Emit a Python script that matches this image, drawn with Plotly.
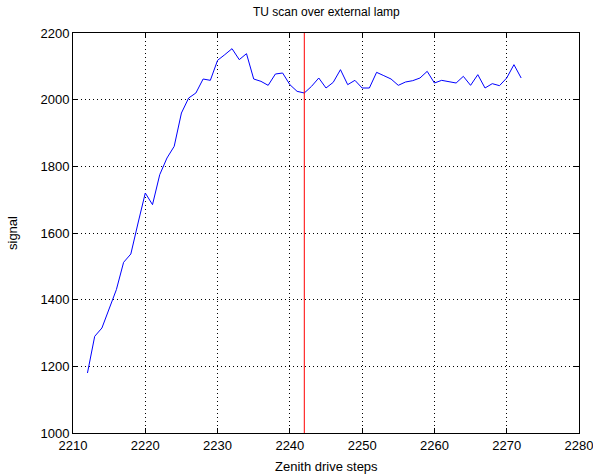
import plotly.graph_objects as go

steps = list(range(2212, 2273))
signal = [
    1180, 1290, 1315, 1370, 1430, 1512, 1537, 1630, 1720, 1685,
    1775, 1825, 1860, 1960, 2005, 2020, 2062, 2058, 2118, 2135,
    2153, 2120, 2138, 2062, 2055, 2043, 2077, 2080, 2045, 2025,
    2020, 2040, 2065, 2035, 2052, 2090, 2045, 2058, 2035, 2035,
    2082, 2072, 2062, 2043, 2053, 2057, 2065, 2085, 2050, 2058,
    2055, 2050, 2070, 2043, 2075, 2035, 2048, 2042, 2065, 2105,
    2065,
]
marker_step = 2242
x_range = [2210, 2280]
y_range = [1000, 2200]

title_text = "TU scan over external lamp"
x_title = "Zenith drive steps"
y_title = "signal"

FONT = "Liberation Sans, Arial, sans-serif"

fig = go.Figure()
fig.add_trace(go.Scatter(x=steps, y=signal, mode="lines",
                         line=dict(color="rgb(0,0,255)", width=1),
                         showlegend=False, hoverinfo="skip"))
fig.add_trace(go.Scatter(x=[marker_step, marker_step], y=y_range, mode="lines",
                         line=dict(color="rgb(255,0,0)", width=1),
                         showlegend=False, hoverinfo="skip"))

axis_common = dict(
    showline=True, linecolor="black", linewidth=1, mirror="ticks",
    ticks="inside", ticklen=5, tickcolor="black", tickwidth=1,
    showgrid=True, gridcolor="black", gridwidth=1, griddash="1px,3px",
    zeroline=False, tickfont=dict(family=FONT, size=13, color="black"),
    ticklabeloverflow="allow", automargin=False,
)

fig.update_xaxes(range=x_range, dtick=10, tick0=2210, **axis_common)
fig.update_yaxes(range=y_range, dtick=200, tick0=1000, **axis_common)

fig.update_layout(
    width=593, height=475,
    margin=dict(l=73, r=14, t=33, b=42),
    paper_bgcolor="white", plot_bgcolor="white",
    font=dict(family=FONT, size=13, color="black"),
    annotations=[
        dict(text=title_text, xref="paper", yref="paper", x=0.5, y=1,
             yshift=21, showarrow=False, xanchor="center", yanchor="middle",
             font=dict(family=FONT, size=12, color="black")),
        dict(text=x_title, xref="paper", yref="paper", x=0.5, y=0,
             yshift=-33, showarrow=False, xanchor="center", yanchor="middle",
             font=dict(family=FONT, size=13, color="black")),
        dict(text=y_title, xref="paper", yref="paper", x=0, y=0.5,
             xshift=-61, showarrow=False, xanchor="center", yanchor="middle",
             textangle=-90, font=dict(family=FONT, size=13, color="black")),
    ],
)

fig.write_html("out.html")
